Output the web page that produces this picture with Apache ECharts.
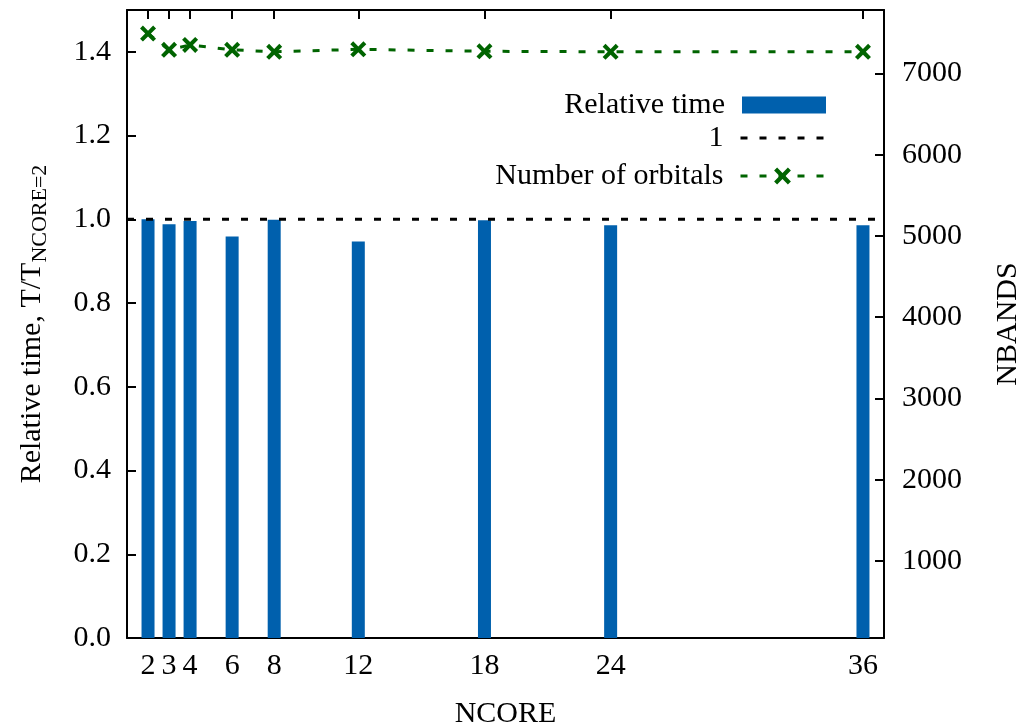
<!DOCTYPE html>
<html>
<head>
<meta charset="utf-8">
<script src="https://cdn.jsdelivr.net/npm/echarts@6/dist/echarts.min.js"></script>
<style>html,body{margin:0;padding:0;background:#fff}#c{width:1021px;height:726px}</style>
</head>
<body>
<div id="c"></div>
<script>
const ncore = [2, 3, 4, 6, 8, 12, 18, 24, 36];
const relTime = [1.0, 0.988, 0.996, 0.959, 0.999, 0.947, 0.998, 0.986, 0.986];
const nbands = [7490, 7290, 7350, 7290, 7266, 7296, 7272, 7266, 7266];
const yTicks = [0, 0.2, 0.4, 0.6, 0.8, 1.0, 1.2, 1.4];
const y2Ticks = [1000, 2000, 3000, 4000, 5000, 6000, 7000];
const refLine = [[1, 1], [37, 1]];

const FONT = 'Liberation Serif';
const FS = 30;
const xSym = 'path://M0,1.8 L1.8,0 L5,3.2 L8.2,0 L10,1.8 L6.8,5 L10,8.2 L8.2,10 L5,6.8 L1.8,10 L0,8.2 L3.2,5 Z';

const chart = echarts.init(document.getElementById('c'));
const axisLine = {show: true, lineStyle: {color: '#000', width: 2}};
const tickStyle = {lineStyle: {color: '#000', width: 2}};
const legTxt = {fontFamily: FONT, fontSize: FS, color: '#000', padding: [0, 12, 0, 0]};
chart.setOption({
  animation: false,
  backgroundColor: '#fff',
  textStyle: {fontFamily: FONT, color: '#000'},
  grid: {left: 127, right: 137, top: 10, bottom: 88, containLabel: false, outerBoundsMode: 'none'},
  legend: [
    {data: ['Relative time'], right: 195, top: 90, align: 'right', itemWidth: 84, itemHeight: 17,
     textStyle: legTxt, icon: 'rect', selectedMode: false, padding: 0},
    {data: ['1'], right: 195, top: 123, align: 'right', itemWidth: 84, itemHeight: 17,
     textStyle: legTxt, selectedMode: false, padding: 0,
     itemStyle: {opacity: 0}, lineStyle: {width: 3}},
    {data: ['Number of orbitals'], right: 195, top: 161, align: 'right', itemWidth: 84, itemHeight: 21,
     textStyle: legTxt, selectedMode: false, padding: 0, lineStyle: {width: 3}}
  ],
  xAxis: [
    {type: 'value', min: 1, max: 37, position: 'bottom',
     name: 'NCORE', nameLocation: 'middle', nameGap: 61,
     nameTextStyle: {fontFamily: FONT, fontSize: FS, color: '#000'},
     axisLine: axisLine,
     axisTick: {inside: true, length: 9, customValues: ncore, ...tickStyle},
     axisLabel: {customValues: ncore, fontFamily: FONT, fontSize: FS, color: '#000', margin: 13},
     splitLine: {show: false}},
    {type: 'value', min: 1, max: 37, position: 'top',
     axisLine: axisLine,
     axisTick: {inside: true, length: 9, customValues: ncore, ...tickStyle},
     axisLabel: {show: false},
     splitLine: {show: false}}
  ],
  yAxis: [
    {type: 'value', min: 0, max: 1.5, position: 'left',
     name: '{m|Relative time, T/T}{s|NCORE=2}', nameLocation: 'middle', nameGap: 76, nameRotate: 90,
     nameTextStyle: {fontFamily: FONT, fontSize: FS, color: '#000',
       rich: {m: {fontFamily: FONT, fontSize: FS, lineHeight: 38, color: '#000'},
              s: {fontFamily: FONT, fontSize: 22, lineHeight: 22, verticalAlign: 'bottom', color: '#000'}}},
     axisLine: axisLine,
     axisTick: {inside: true, length: 9, customValues: yTicks, ...tickStyle},
     axisLabel: {customValues: yTicks, formatter: v => v.toFixed(1), fontFamily: FONT, fontSize: FS, color: '#000', margin: 16},
     splitLine: {show: false}},
    {type: 'value', min: 53, max: 7780, position: 'right',
     name: 'NBANDS', nameLocation: 'middle', nameGap: 109, nameRotate: 90,
     nameTextStyle: {fontFamily: FONT, fontSize: FS, color: '#000'},
     axisLine: axisLine,
     axisTick: {inside: true, length: 9, customValues: y2Ticks, ...tickStyle},
     axisLabel: {customValues: y2Ticks, formatter: v => String(v), fontFamily: FONT, fontSize: FS, color: '#000', margin: 18},
     splitLine: {show: false}}
  ],
  series: [
    {name: 'Relative time', type: 'bar', xAxisIndex: 0, yAxisIndex: 0, barWidth: 13,
     itemStyle: {color: '#0060ad'},
     data: ncore.map((x, i) => [x, relTime[i]])},
    {name: '1', type: 'line', xAxisIndex: 0, yAxisIndex: 0, symbol: 'none',
     lineStyle: {color: '#000', width: 3, type: [7, 12]}, itemStyle: {color: '#000'},
     data: refLine, z: 5},
    {name: 'Number of orbitals', type: 'line', xAxisIndex: 0, yAxisIndex: 1,
     symbol: xSym, symbolSize: 16,
     lineStyle: {color: '#006400', width: 3, type: [7, 12]},
     itemStyle: {color: '#006400'},
     data: ncore.map((x, i) => [x, nbands[i]]), z: 6}
  ]
});
</script>
</body>
</html>
